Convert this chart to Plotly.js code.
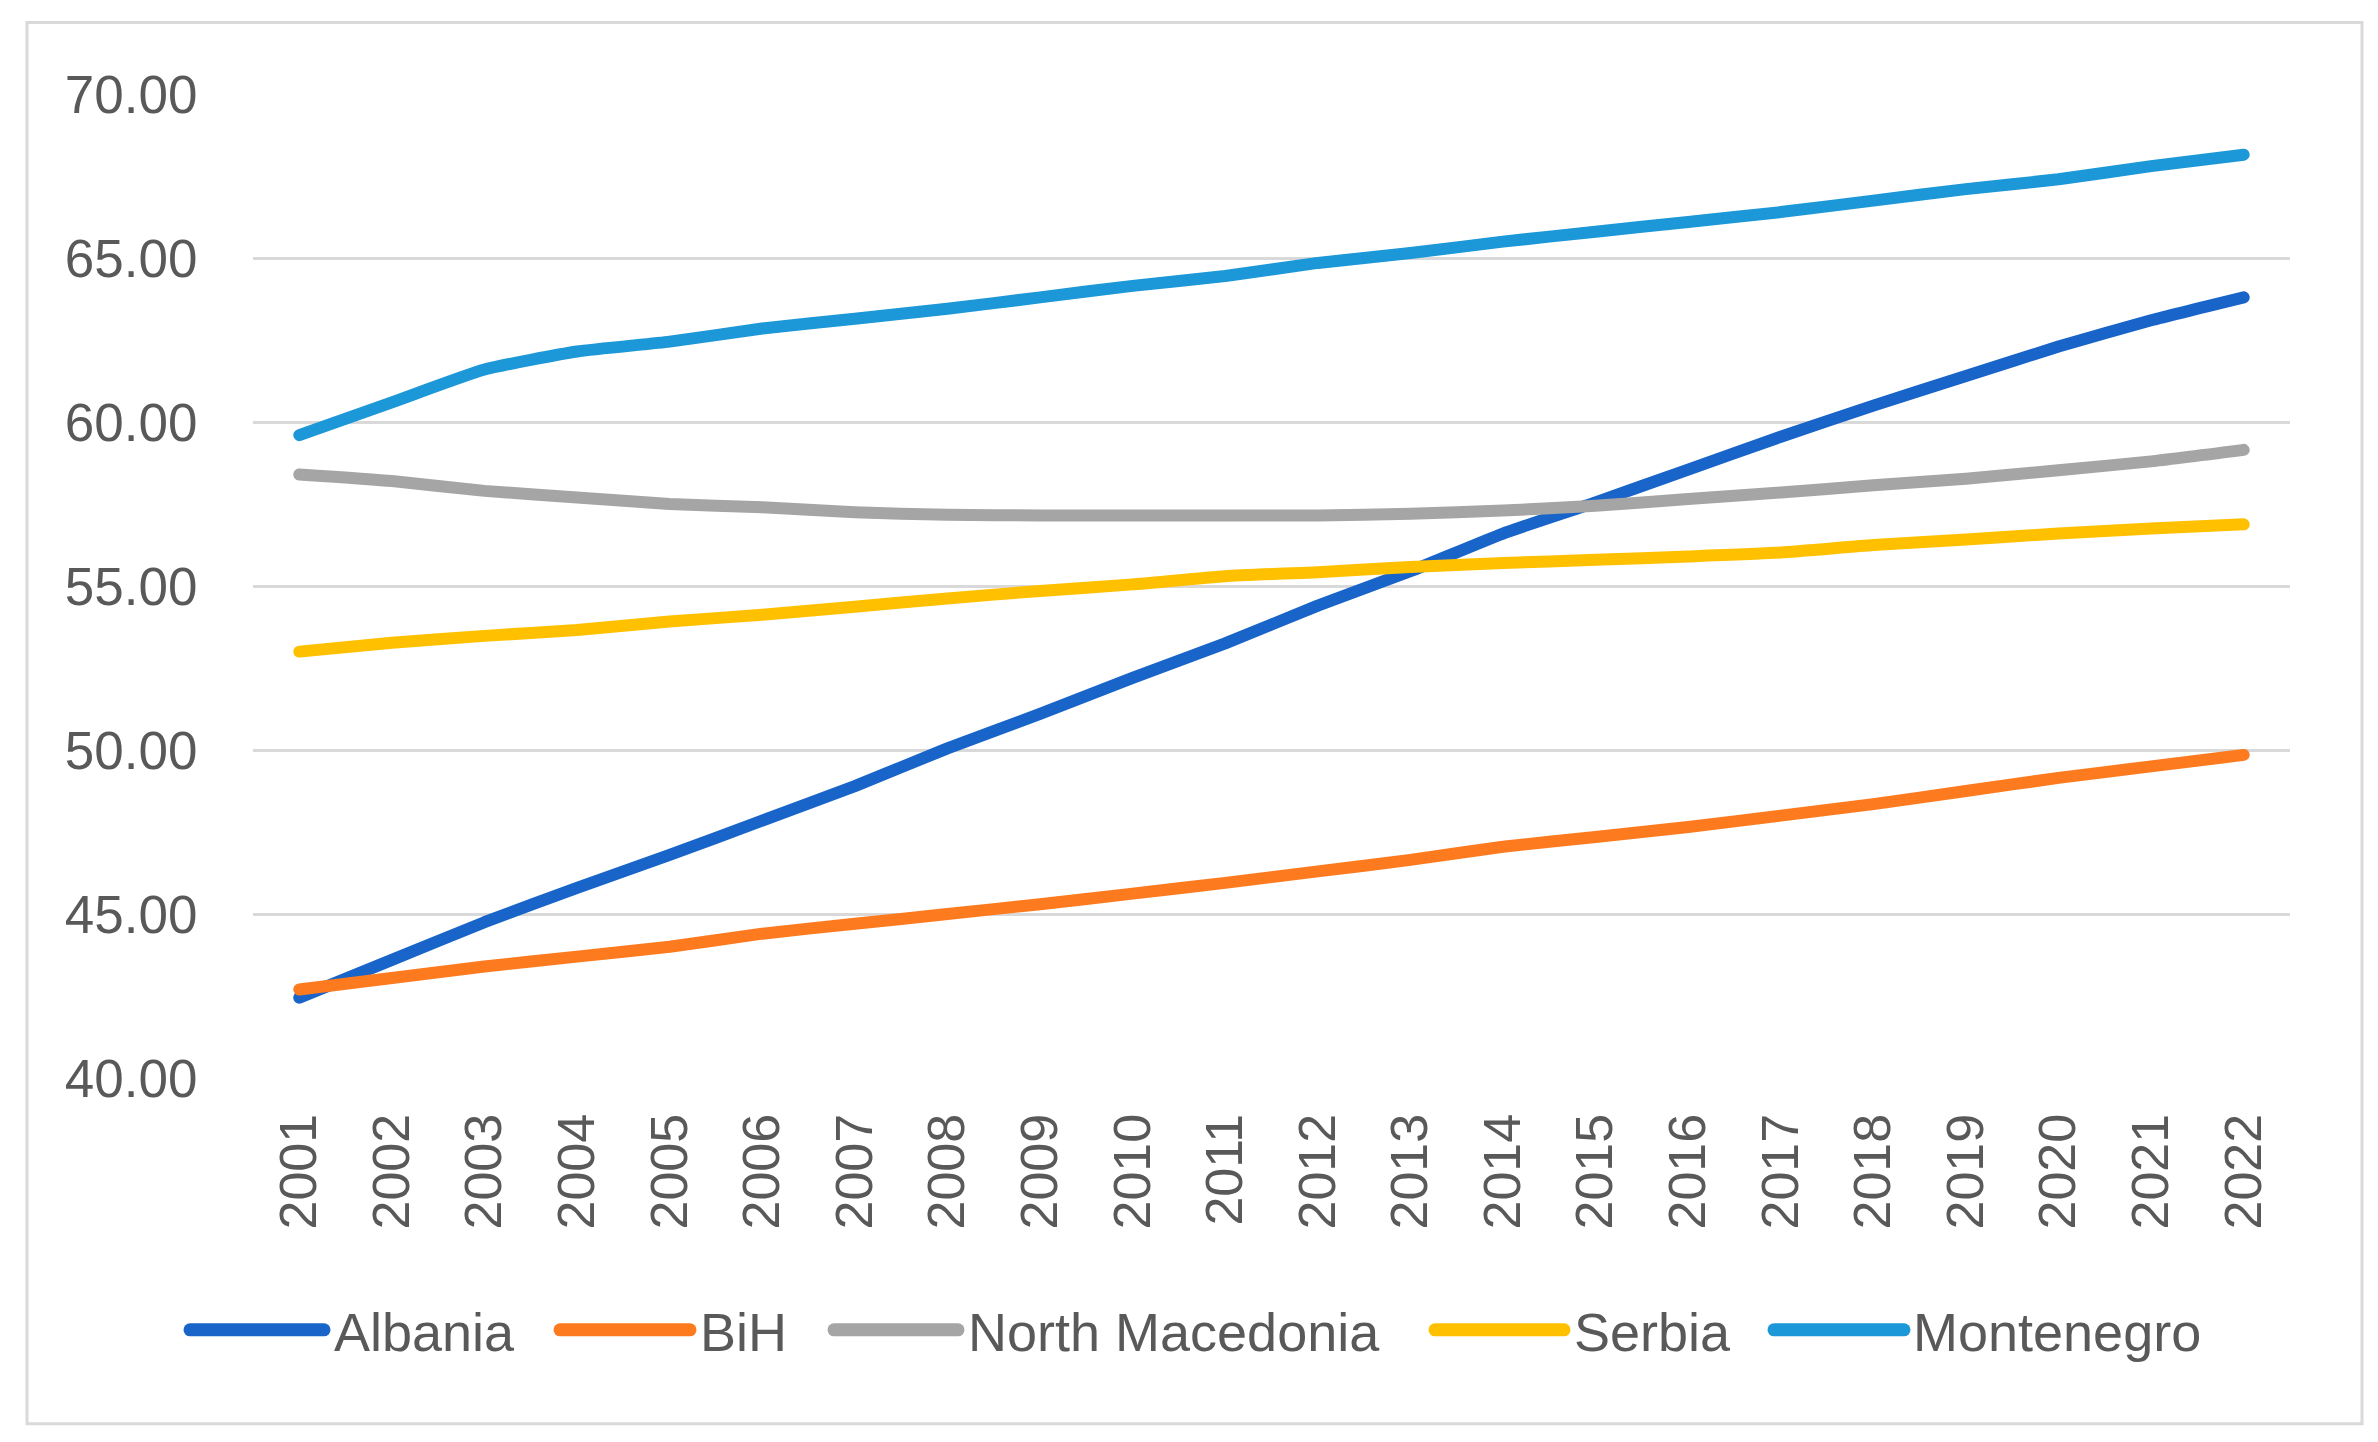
<!DOCTYPE html>
<html>
<head>
<meta charset="utf-8">
<script src="https://cdn.plot.ly/plotly-3.0.1.min.js"></script>
<style>
  html, body { margin: 0; padding: 0; background: #ffffff; }
  #chart { width: 2378px; height: 1442px; }
</style>
</head>
<body>
<div id="chart"></div>
<script>
// ---- Data ----
const years = ['2001','2002','2003','2004','2005','2006','2007','2008','2009','2010','2011',
               '2012','2013','2014','2015','2016','2017','2018','2019','2020','2021','2022'];

const albania = [42.45, 43.6, 44.75, 45.8, 46.8, 47.85, 48.9, 50.05, 51.1, 52.2, 53.25,
                 54.4, 55.45, 56.6, 57.55, 58.55, 59.55, 60.5, 61.4, 62.3, 63.1, 63.8];

const bih = [42.7, 43.05, 43.4, 43.7, 44.0, 44.4, 44.7, 45.0, 45.3, 45.62, 45.95,
             46.3, 46.65, 47.05, 47.35, 47.65, 48.0, 48.35, 48.75, 49.15, 49.5, 49.85];

const northMacedonia = [58.4, 58.2, 57.9, 57.7, 57.5, 57.4, 57.25, 57.17, 57.15, 57.15, 57.15,
                        57.15, 57.2, 57.3, 57.45, 57.65, 57.85, 58.07, 58.27, 58.53, 58.8, 59.15];

const serbia = [53.0, 53.27, 53.48, 53.66, 53.92, 54.12, 54.37, 54.62, 54.85, 55.05, 55.3,
                55.42, 55.58, 55.7, 55.8, 55.9, 56.02, 56.25, 56.42, 56.6, 56.75, 56.88];

const montenegro = [59.6, 60.6, 61.6, 62.15, 62.45, 62.85, 63.15, 63.45, 63.8, 64.15, 64.45,
                    64.85, 65.15, 65.5, 65.8, 66.1, 66.4, 66.75, 67.1, 67.4, 67.8, 68.15];

const seriesNames = ['Albania', 'BiH', 'North Macedonia', 'Serbia', 'Montenegro'];
const seriesValues = [albania, bih, northMacedonia, serbia, montenegro];
const seriesColors = ['#1864C8', '#FD7A1E', '#A5A5A5', '#FFC000', '#1C97D7'];

// ---- Layout geometry (pixels) ----
const W = 2378, H = 1442;
const M = { l: 253, r: 88, t: 93.5, b: 364 };
const plotW = W - M.l - M.r, plotH = H - M.t - M.b;
const px2x = p => (p - M.l) / plotW;
const py2y = p => (H - M.b - p) / plotH;

const FONT = '"Liberation Sans", Arial, sans-serif';
const TXT = '#595959';

const traces = seriesNames.map((name, i) => ({
  type: 'scatter',
  mode: 'lines',
  name: name,
  x: years,
  y: seriesValues[i],
  line: { color: seriesColors[i], width: 12, shape: 'spline', smoothing: 0.5 },
  showlegend: false,
  hoverinfo: 'x+y+name'
}));

// custom legend (long line samples as in the original)
const legendItems = [
  { lineFrom: 190, lineTo: 324, textX: 332 },
  { lineFrom: 560, lineTo: 690, textX: 698 },
  { lineFrom: 834, lineTo: 958, textX: 966 },
  { lineFrom: 1435, lineTo: 1564, textX: 1572 },
  { lineFrom: 1774, lineTo: 1904, textX: 1911 }
];
const legendY = 1330;

const shapes = [];
const annotations = [];
legendItems.forEach((it, i) => {
  shapes.push({
    type: 'line', xref: 'paper', yref: 'paper',
    x0: px2x(it.lineFrom), x1: px2x(it.lineTo), y0: py2y(legendY), y1: py2y(legendY),
    line: { color: seriesColors[i], width: 13 }
  });
  annotations.push({
    xref: 'paper', yref: 'paper', x: px2x(it.textX), y: py2y(legendY + 2),
    xanchor: 'left', yanchor: 'middle', showarrow: false,
    text: seriesNames[i],
    font: { family: FONT, size: 54, color: TXT }
  });
});

// outer frame
shapes.push({
  type: 'rect', xref: 'paper', yref: 'paper', layer: 'below',
  x0: px2x(27), x1: px2x(2362), y0: py2y(1424), y1: py2y(22),
  line: { color: '#D9D9D9', width: 3 }, fillcolor: 'rgba(0,0,0,0)'
});

const layout = {
  width: W, height: H,
  margin: M,
  paper_bgcolor: '#ffffff',
  plot_bgcolor: '#ffffff',
  font: { family: FONT, size: 53, color: TXT },
  xaxis: {
    type: 'category',
    range: [-0.5, years.length - 0.5],
    tickangle: -90,
    showgrid: false, showline: false, zeroline: false,
    ticks: 'outside', ticklen: 14, tickcolor: 'rgba(0,0,0,0)',
    tickfont: { family: FONT, size: 52, color: TXT },
    fixedrange: true
  },
  yaxis: {
    range: [40, 70],
    dtick: 5, tick0: 40,
    tickformat: '.2f',
    showgrid: true, gridcolor: '#D9D9D9', gridwidth: 3,
    showline: false, zeroline: false,
    ticks: 'outside', ticklen: 44, tickcolor: 'rgba(0,0,0,0)',
    tickfont: { family: FONT, size: 53, color: TXT },
    fixedrange: true
  },
  shapes: shapes,
  annotations: annotations,
  showlegend: false
};

Plotly.newPlot('chart', traces, layout, { displayModeBar: false, staticPlot: true }).then(gd => {
  gd.querySelectorAll('.scatterlayer path.js-line').forEach(p => {
    p.style.strokeLinecap = 'round';
    p.style.strokeLinejoin = 'round';
  });
  gd.querySelectorAll('.shapelayer path').forEach(p => {
    p.style.strokeLinecap = 'round';
  });
});
</script>
</body>
</html>
